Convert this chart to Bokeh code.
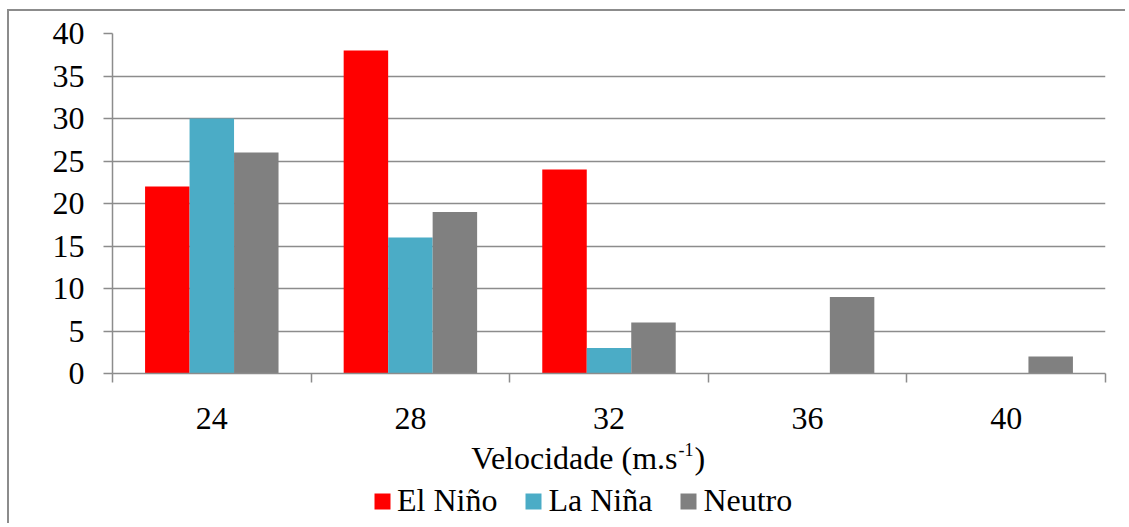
from bokeh.plotting import figure
from bokeh.layouts import column
from bokeh.models import FixedTicker, Legend, LegendItem, Range1d, ColumnDataSource, Label
from bokeh.embed import file_html
from bokeh.resources import INLINE

# ---- data ----
categories = ["24", "28", "32", "36", "40"]
el_nino = [22, 38, 24, 0, 0]
la_nina = [30, 16, 3, 0, 0]
neutro = [26, 19, 6, 9, 2]
series_names = ["El Niño", "La Niña", "Neutro"]
series_colors = ["#FF0000", "#4BACC6", "#808080"]
y_ticks = [0, 5, 10, 15, 20, 25, 30, 35, 40]
x_title_main = "Velocidade (m.s"
x_title_sup = "-1"
x_title_end = ")"

FONT = "Liberation Serif"
GRID = "#8c8c8c"
W = 1116
H1 = 429
H2 = 83
BL, BR = 103, 20

centers = [i + 0.5 for i in range(len(categories))]
bar_w = 0.224
offsets = [-bar_w, 0.0, bar_w]

# ---------------- chart ----------------
p = figure(width=W, height=H1, output_backend="svg", toolbar_location=None,
           x_range=Range1d(0, len(categories)), y_range=Range1d(0, 40),
           min_border_left=BL, min_border_right=BR, min_border_top=22, min_border_bottom=67)
p.outline_line_color = None
p.background_fill_color = "white"
p.border_fill_color = "white"

for vals, off, col in zip([el_nino, la_nina, neutro], offsets, series_colors):
    src = ColumnDataSource(dict(x=[c + off for c in centers], top=vals))
    p.vbar(x="x", top="top", bottom=0, width=bar_w, source=src,
           fill_color=col, line_color=None)

p.xgrid.grid_line_color = None
p.ygrid.ticker = FixedTicker(ticks=y_ticks)
p.ygrid.grid_line_color = GRID
p.ygrid.grid_line_width = 1.5

p.yaxis.ticker = FixedTicker(ticks=y_ticks)
p.yaxis.axis_line_color = GRID
p.yaxis.axis_line_width = 1.5
p.yaxis.major_tick_line_color = GRID
p.yaxis.major_tick_line_width = 1.5
p.yaxis.major_tick_out = 9
p.yaxis.major_tick_in = 0
p.yaxis.minor_tick_line_color = None
p.yaxis.major_label_text_font = FONT
p.yaxis.major_label_text_font_size = "32px"
p.yaxis.major_label_text_color = "black"
p.yaxis.major_label_standoff = 19

p.xaxis.ticker = FixedTicker(ticks=centers, minor_ticks=list(range(len(categories) + 1)))
p.xaxis.major_label_overrides = {c: lab for c, lab in zip(centers, categories)}
p.xaxis.axis_line_color = GRID
p.xaxis.axis_line_width = 1.5
p.xaxis.major_tick_line_color = None
p.xaxis.major_tick_out = 0
p.xaxis.major_tick_in = 0
p.xaxis.minor_tick_line_color = GRID
p.xaxis.minor_tick_line_width = 1.5
p.xaxis.minor_tick_out = 9
p.xaxis.minor_tick_in = 0
p.xaxis.major_label_text_font = FONT
p.xaxis.major_label_text_font_size = "32px"
p.xaxis.major_label_text_color = "black"
p.xaxis.major_label_standoff = 25

# ---------------- axis title + legend strip ----------------
q = figure(width=W, height=H2, output_backend="svg", toolbar_location=None,
           x_range=Range1d(0, 1), y_range=Range1d(0, 1),
           x_axis_type=None, y_axis_type=None,
           min_border_left=BL, min_border_right=BR, min_border_top=0, min_border_bottom=0)
q.outline_line_color = None
q.grid.grid_line_color = None
q.background_fill_color = "white"
q.border_fill_color = "white"

lab_kw = dict(x_units="screen", y_units="screen", text_font=FONT,
              text_color="black", text_baseline="alphabetic")
q.add_layout(Label(x=565, y=66, text=x_title_main, text_align="right",
                   text_font_size="32px", **lab_kw))
q.add_layout(Label(x=566, y=74, text=x_title_sup, text_align="left",
                   text_font_size="18px", **lab_kw))
q.add_layout(Label(x=582, y=66, text=x_title_end, text_align="left",
                   text_font_size="32px", **lab_kw))

# legend proxies (placed outside the visible range of the strip)
proxies = [q.vbar(x=[-10], top=[-10], bottom=-11, width=1, fill_color=col, line_color=None)
           for col in series_colors]
legend = Legend(items=[LegendItem(label=n, renderers=[r]) for n, r in zip(series_names, proxies)],
                location=(260, 4), orientation="horizontal", padding=0, margin=0,
                spacing=26, glyph_width=20, glyph_height=20, label_standoff=5,
                border_line_color=None, background_fill_alpha=0,
                label_text_font=FONT, label_text_font_size="32px", label_text_color="black")
q.add_layout(legend, "center")

layout = column(p, q, spacing=0,
                styles={"margin-left": "7px", "margin-top": "9px",
                        "border-left": "2px solid #8c8c8c", "border-top": "2px solid #8c8c8c"})

open("out.html", "w").write(file_html(layout, INLINE))
